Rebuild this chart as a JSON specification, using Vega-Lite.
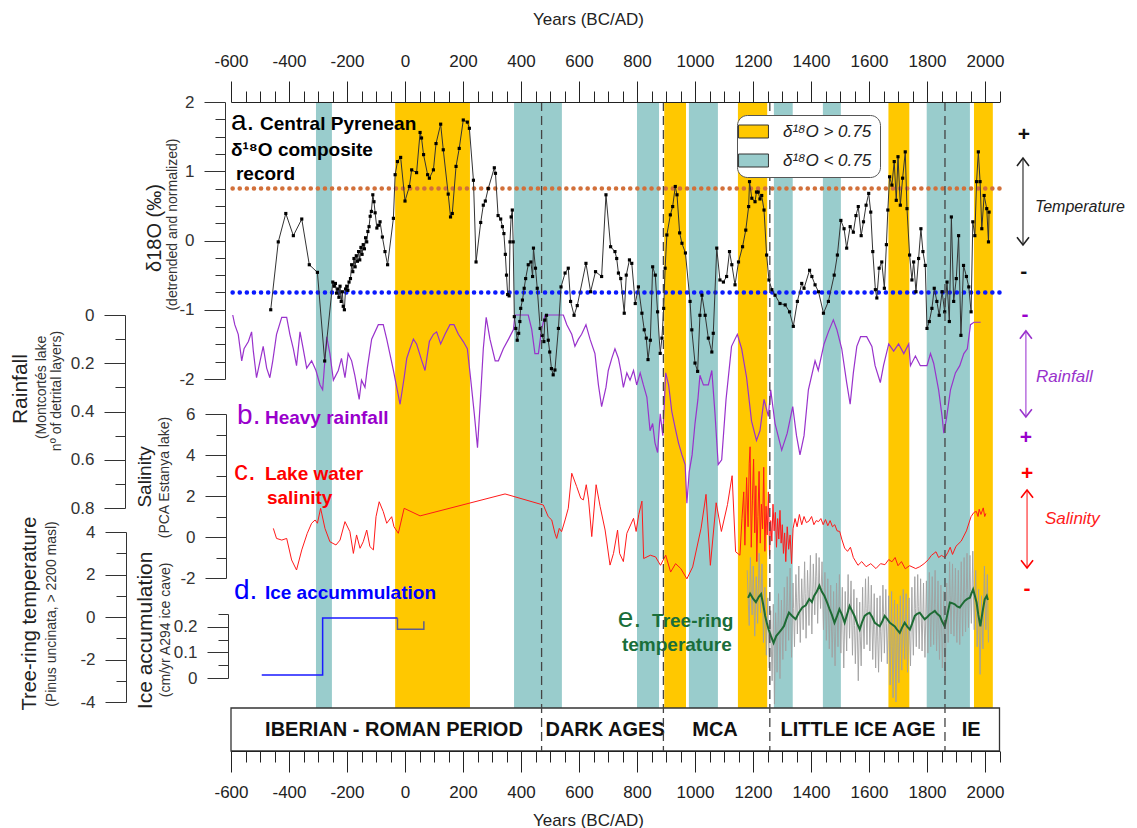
{
"$schema":"https://vega.github.io/schema/vega-lite/v6.json",
"width":768.5,"height":649,
"autosize":{"type":"none"},
"padding":{"left":231,"top":102,"right":137.5,"bottom":77},
"background":"white",
"config":{"font":"Liberation Sans","view":{"stroke":null},"text":{"font":"Liberation Sans"}},
"datasets":{
"d18o":[{"year":-463,"v":-1.0},{"year":-437,"v":-0.02},{"year":-411,"v":0.39},{"year":-385,"v":0.07},{"year":-356,"v":0.31},{"year":-330,"v":-0.35},{"year":-302,"v":-0.46},{"year":-277,"v":-1.74},{"year":-249,"v":-0.6},{"year":-244,"v":-0.66},{"year":-240,"v":-0.62},{"year":-236,"v":-0.76},{"year":-232,"v":-0.7},{"year":-228,"v":-0.82},{"year":-224,"v":-0.66},{"year":-220,"v":-0.88},{"year":-216,"v":-0.74},{"year":-213,"v":-0.95},{"year":-209,"v":-1.0},{"year":-205,"v":-0.7},{"year":-201,"v":-0.66},{"year":-197,"v":-0.72},{"year":-193,"v":-0.6},{"year":-188,"v":-0.55},{"year":-184,"v":-0.35},{"year":-180,"v":-0.45},{"year":-176,"v":-0.26},{"year":-172,"v":-0.38},{"year":-168,"v":-0.22},{"year":-164,"v":-0.3},{"year":-160,"v":-0.16},{"year":-156,"v":-0.28},{"year":-152,"v":-0.1},{"year":-148,"v":-0.2},{"year":-144,"v":-0.06},{"year":-140,"v":-0.12},{"year":-136,"v":0.04},{"year":-132,"v":-0.02},{"year":-128,"v":0.13},{"year":-124,"v":0.2},{"year":-120,"v":0.35},{"year":-116,"v":0.42},{"year":-111,"v":0.66},{"year":-107,"v":0.56},{"year":-103,"v":0.4},{"year":-97,"v":0.18},{"year":-91,"v":0.22},{"year":-86,"v":0.27},{"year":-78,"v":0.05},{"year":-69,"v":-0.16},{"year":-60,"v":-0.35},{"year":-40,"v":0.32},{"year":-34,"v":0.95},{"year":-26,"v":1.14},{"year":-15,"v":1.2},{"year":0,"v":0.57},{"year":15,"v":0.78},{"year":23,"v":1.02},{"year":40,"v":0.98},{"year":52,"v":1.56},{"year":57,"v":1.48},{"year":64,"v":1.24},{"year":78,"v":0.95},{"year":84,"v":0.9},{"year":98,"v":1.02},{"year":107,"v":1.4},{"year":123,"v":1.68},{"year":132,"v":1.31},{"year":149,"v":0.67},{"year":157,"v":0.34},{"year":163,"v":0.39},{"year":176,"v":1.07},{"year":187,"v":1.33},{"year":201,"v":1.74},{"year":215,"v":1.71},{"year":222,"v":1.62},{"year":236,"v":0.87},{"year":245,"v":-0.31},{"year":261,"v":0.26},{"year":270,"v":0.51},{"year":277,"v":0.57},{"year":287,"v":0.75},{"year":308,"v":1.05},{"year":312,"v":0.97},{"year":321,"v":0.36},{"year":330,"v":0.31},{"year":336,"v":0.2},{"year":341,"v":0.1},{"year":346,"v":-0.2},{"year":350,"v":-0.5},{"year":354,"v":-0.78},{"year":359,"v":-0.8},{"year":362,"v":-0.02},{"year":366,"v":0.34},{"year":370,"v":0.44},{"year":373,"v":-0.02},{"year":377,"v":-1.1},{"year":382,"v":-1.27},{"year":387,"v":-1.44},{"year":392,"v":-1.34},{"year":396,"v":-1.17},{"year":399,"v":-0.98},{"year":405,"v":-0.86},{"year":411,"v":-0.69},{"year":416,"v":-0.55},{"year":425,"v":-0.35},{"year":434,"v":-0.31},{"year":440,"v":-0.52},{"year":443,"v":-0.11},{"year":450,"v":-0.4},{"year":456,"v":-0.69},{"year":466,"v":-1.27},{"year":473,"v":-1.37},{"year":479,"v":-1.46},{"year":482,"v":-1.15},{"year":488,"v":-1.08},{"year":494,"v":-1.44},{"year":499,"v":-1.61},{"year":505,"v":-1.85},{"year":511,"v":-1.94},{"year":517,"v":-1.87},{"year":529,"v":-1.27},{"year":538,"v":-0.67},{"year":552,"v":-0.47},{"year":563,"v":-0.4},{"year":571,"v":-0.88},{"year":583,"v":-1.08},{"year":594,"v":-0.94},{"year":624,"v":-0.33},{"year":640,"v":-0.74},{"year":657,"v":-0.45},{"year":678,"v":-0.52},{"year":693,"v":0.66},{"year":709,"v":-0.09},{"year":724,"v":-0.16},{"year":730,"v":-0.26},{"year":736,"v":-0.47},{"year":744,"v":-0.55},{"year":756,"v":-1.05},{"year":763,"v":-0.5},{"year":774,"v":-0.28},{"year":782,"v":-0.33},{"year":794,"v":-0.91},{"year":805,"v":-0.67},{"year":817,"v":-1.05},{"year":825,"v":-1.29},{"year":832,"v":-1.41},{"year":838,"v":-1.72},{"year":846,"v":-1.44},{"year":854,"v":-0.38},{"year":863,"v":-0.5},{"year":871,"v":-1.03},{"year":880,"v":-1.63},{"year":886,"v":-1.41},{"year":892,"v":-0.98},{"year":897,"v":-0.4},{"year":903,"v":0.08},{"year":915,"v":0.37},{"year":923,"v":0.49},{"year":932,"v":0.78},{"year":938,"v":0.66},{"year":947,"v":0.11},{"year":955,"v":-0.04},{"year":967,"v":-0.18},{"year":983,"v":-0.88},{"year":989,"v":-1.29},{"year":1000,"v":-1.77},{"year":1009,"v":-1.89},{"year":1017,"v":-1.08},{"year":1024,"v":-0.79},{"year":1035,"v":-1.08},{"year":1046,"v":-1.41},{"year":1058,"v":-1.61},{"year":1063,"v":-1.34},{"year":1075,"v":-0.11},{"year":1086,"v":-0.57},{"year":1098,"v":-0.6},{"year":1109,"v":-0.52},{"year":1119,"v":-0.16},{"year":1127,"v":-0.35},{"year":1138,"v":-0.64},{"year":1150,"v":-0.31},{"year":1164,"v":-0.09},{"year":1175,"v":0.15},{"year":1185,"v":0.49},{"year":1188,"v":0.85},{"year":1196,"v":0.61},{"year":1207,"v":0.56},{"year":1212,"v":0.7},{"year":1218,"v":0.7},{"year":1224,"v":0.6},{"year":1230,"v":0.65},{"year":1238,"v":0.44},{"year":1247,"v":-0.21},{"year":1255,"v":-0.57},{"year":1265,"v":-0.71},{"year":1276,"v":-0.79},{"year":1293,"v":-0.91},{"year":1311,"v":-0.93},{"year":1326,"v":-1.03},{"year":1339,"v":-1.24},{"year":1353,"v":-0.88},{"year":1368,"v":-0.62},{"year":1376,"v":-0.69},{"year":1395,"v":-0.43},{"year":1403,"v":-0.52},{"year":1414,"v":-0.64},{"year":1426,"v":-0.74},{"year":1443,"v":-1.05},{"year":1460,"v":-0.88},{"year":1480,"v":-0.5},{"year":1491,"v":-0.21},{"year":1503,"v":0.29},{"year":1514,"v":0.17},{"year":1523,"v":-0.11},{"year":1535,"v":0.2},{"year":1546,"v":0.12},{"year":1555,"v":0.36},{"year":1563,"v":0.49},{"year":1573,"v":0.07},{"year":1581,"v":0.27},{"year":1590,"v":0.51},{"year":1599,"v":0.68},{"year":1606,"v":0.41},{"year":1613,"v":-0.16},{"year":1622,"v":-0.71},{"year":1627,"v":-0.83},{"year":1635,"v":-0.4},{"year":1644,"v":-0.31},{"year":1653,"v":-0.69},{"year":1660,"v":-0.06},{"year":1665,"v":0.44},{"year":1671,"v":0.92},{"year":1679,"v":0.8},{"year":1687,"v":1.14},{"year":1694,"v":0.58},{"year":1700,"v":1.21},{"year":1708,"v":0.51},{"year":1716,"v":0.9},{"year":1725,"v":1.28},{"year":1731,"v":0.46},{"year":1740,"v":-0.21},{"year":1748,"v":-0.57},{"year":1754,"v":-0.31},{"year":1762,"v":-0.74},{"year":1771,"v":-0.26},{"year":1779,"v":0.17},{"year":1786,"v":-0.16},{"year":1794,"v":-0.36},{"year":1800,"v":-1.27},{"year":1808,"v":-1.17},{"year":1817,"v":-0.98},{"year":1825,"v":-0.69},{"year":1834,"v":-0.88},{"year":1842,"v":-1.08},{"year":1852,"v":-0.74},{"year":1861,"v":-1.03},{"year":1869,"v":-0.6},{"year":1877,"v":-1.17},{"year":1884,"v":0.34},{"year":1892,"v":-0.88},{"year":1901,"v":-0.55},{"year":1909,"v":0.07},{"year":1917,"v":-1.37},{"year":1926,"v":-0.36},{"year":1936,"v":-0.52},{"year":1944,"v":-0.67},{"year":1952,"v":-1.03},{"year":1958,"v":0.27},{"year":1965,"v":0.07},{"year":1971,"v":0.85},{"year":1977,"v":1.28},{"year":1983,"v":0.85},{"year":1989,"v":0.17},{"year":1997,"v":0.65},{"year":2006,"v":0.46},{"year":2012,"v":-0.02},{"year":2014,"v":0.41}],
"rain":[{"year":-594,"v":0.0},{"year":-587,"v":0.04},{"year":-575,"v":0.08},{"year":-563,"v":0.19},{"year":-555,"v":0.14},{"year":-540,"v":0.11},{"year":-529,"v":0.07},{"year":-523,"v":0.15},{"year":-512,"v":0.26},{"year":-489,"v":0.13},{"year":-477,"v":0.22},{"year":-466,"v":0.26},{"year":-456,"v":0.19},{"year":-443,"v":0.08},{"year":-425,"v":0.01},{"year":-408,"v":0.01},{"year":-397,"v":0.08},{"year":-385,"v":0.14},{"year":-374,"v":0.21},{"year":-362,"v":0.07},{"year":-351,"v":0.14},{"year":-339,"v":0.22},{"year":-322,"v":0.19},{"year":-307,"v":0.23},{"year":-293,"v":0.29},{"year":-284,"v":0.31},{"year":-270,"v":0.09},{"year":-259,"v":0.16},{"year":-247,"v":0.27},{"year":-230,"v":0.23},{"year":-219,"v":0.18},{"year":-207,"v":0.26},{"year":-196,"v":0.16},{"year":-184,"v":0.19},{"year":-173,"v":0.25},{"year":-158,"v":0.35},{"year":-150,"v":0.27},{"year":-138,"v":0.3},{"year":-130,"v":0.22},{"year":-115,"v":0.1},{"year":-92,"v":0.04},{"year":-75,"v":0.04},{"year":-63,"v":0.1},{"year":-40,"v":0.23},{"year":-17,"v":0.37},{"year":-3,"v":0.26},{"year":6,"v":0.18},{"year":17,"v":0.14},{"year":29,"v":0.1},{"year":40,"v":0.12},{"year":58,"v":0.19},{"year":69,"v":0.23},{"year":84,"v":0.11},{"year":98,"v":0.08},{"year":109,"v":0.07},{"year":123,"v":0.12},{"year":138,"v":0.08},{"year":155,"v":0.04},{"year":169,"v":0.04},{"year":184,"v":0.08},{"year":201,"v":0.11},{"year":215,"v":0.14},{"year":226,"v":0.26},{"year":239,"v":0.41},{"year":250,"v":0.55},{"year":261,"v":0.33},{"year":270,"v":0.14},{"year":280,"v":0.01},{"year":293,"v":0.1},{"year":311,"v":0.19},{"year":322,"v":0.19},{"year":339,"v":0.14},{"year":357,"v":0.1},{"year":374,"v":0.06},{"year":379,"v":0.0},{"year":425,"v":0.0},{"year":437,"v":0.06},{"year":448,"v":0.16},{"year":460,"v":0.16},{"year":471,"v":0.06},{"year":483,"v":0.0},{"year":546,"v":0.0},{"year":558,"v":0.04},{"year":575,"v":0.08},{"year":586,"v":0.13},{"year":598,"v":0.1},{"year":609,"v":0.08},{"year":624,"v":0.04},{"year":638,"v":0.1},{"year":655,"v":0.16},{"year":667,"v":0.29},{"year":678,"v":0.38},{"year":693,"v":0.3},{"year":701,"v":0.23},{"year":713,"v":0.18},{"year":724,"v":0.14},{"year":736,"v":0.18},{"year":744,"v":0.23},{"year":753,"v":0.3},{"year":765,"v":0.24},{"year":776,"v":0.27},{"year":788,"v":0.23},{"year":799,"v":0.29},{"year":811,"v":0.24},{"year":822,"v":0.29},{"year":834,"v":0.34},{"year":845,"v":0.48},{"year":854,"v":0.45},{"year":862,"v":0.53},{"year":871,"v":0.57},{"year":880,"v":0.41},{"year":889,"v":0.5},{"year":899,"v":0.24},{"year":909,"v":0.29},{"year":920,"v":0.4},{"year":932,"v":0.47},{"year":943,"v":0.53},{"year":955,"v":0.58},{"year":966,"v":0.62},{"year":972,"v":0.78},{"year":980,"v":0.65},{"year":990,"v":0.58},{"year":1000,"v":0.45},{"year":1010,"v":0.35},{"year":1017,"v":0.25},{"year":1029,"v":0.29},{"year":1046,"v":0.29},{"year":1058,"v":0.23},{"year":1069,"v":0.41},{"year":1080,"v":0.62},{"year":1092,"v":0.6},{"year":1107,"v":0.35},{"year":1126,"v":0.13},{"year":1146,"v":0.08},{"year":1161,"v":0.14},{"year":1178,"v":0.26},{"year":1195,"v":0.44},{"year":1212,"v":0.52},{"year":1224,"v":0.48},{"year":1238,"v":0.35},{"year":1253,"v":0.42},{"year":1261,"v":0.31},{"year":1276,"v":0.45},{"year":1299,"v":0.56},{"year":1318,"v":0.49},{"year":1337,"v":0.38},{"year":1350,"v":0.5},{"year":1362,"v":0.58},{"year":1376,"v":0.5},{"year":1391,"v":0.31},{"year":1414,"v":0.19},{"year":1425,"v":0.23},{"year":1445,"v":0.12},{"year":1460,"v":0.07},{"year":1477,"v":0.02},{"year":1489,"v":0.06},{"year":1506,"v":0.14},{"year":1523,"v":0.28},{"year":1535,"v":0.37},{"year":1546,"v":0.24},{"year":1558,"v":0.13},{"year":1571,"v":0.09},{"year":1592,"v":0.09},{"year":1610,"v":0.13},{"year":1621,"v":0.21},{"year":1639,"v":0.28},{"year":1650,"v":0.21},{"year":1668,"v":0.12},{"year":1685,"v":0.15},{"year":1702,"v":0.12},{"year":1720,"v":0.16},{"year":1737,"v":0.12},{"year":1743,"v":0.21},{"year":1760,"v":0.17},{"year":1777,"v":0.21},{"year":1800,"v":0.21},{"year":1812,"v":0.16},{"year":1823,"v":0.2},{"year":1840,"v":0.31},{"year":1852,"v":0.42},{"year":1858,"v":0.49},{"year":1867,"v":0.43},{"year":1881,"v":0.31},{"year":1898,"v":0.24},{"year":1913,"v":0.21},{"year":1927,"v":0.16},{"year":1939,"v":0.14},{"year":1950,"v":0.04},{"year":1962,"v":0.03},{"year":1985,"v":0.03}],
"sal":[{"year":-454,"v":0.42},{"year":-443,"v":-0.07},{"year":-425,"v":-0.15},{"year":-408,"v":-0.07},{"year":-391,"v":-1.12},{"year":-374,"v":-1.61},{"year":-356,"v":-0.63},{"year":-337,"v":0.18},{"year":-322,"v":0.67},{"year":-310,"v":0.83},{"year":-302,"v":0.67},{"year":-291,"v":1.4},{"year":-276,"v":0.42},{"year":-259,"v":-0.23},{"year":-238,"v":-0.39},{"year":-224,"v":-0.15},{"year":-207,"v":0.75},{"year":-190,"v":0.26},{"year":-178,"v":-0.8},{"year":-167,"v":0.1},{"year":-155,"v":-0.55},{"year":-144,"v":-0.23},{"year":-132,"v":0.34},{"year":-121,"v":-0.47},{"year":-109,"v":-0.63},{"year":-100,"v":0.99},{"year":-89,"v":1.72},{"year":-75,"v":1.24},{"year":-63,"v":0.67},{"year":-46,"v":0.99},{"year":-38,"v":0.5},{"year":-23,"v":0.18},{"year":-3,"v":1.4},{"year":52,"v":1.03},{"year":345,"v":2.1},{"year":477,"v":1.56},{"year":494,"v":0.99},{"year":506,"v":0.83},{"year":517,"v":0.18},{"year":523,"v":-0.07},{"year":532,"v":0.42},{"year":540,"v":0.26},{"year":552,"v":0.83},{"year":563,"v":1.4},{"year":575,"v":3.11},{"year":592,"v":2.46},{"year":606,"v":1.89},{"year":615,"v":1.81},{"year":625,"v":2.55},{"year":633,"v":1.81},{"year":644,"v":0.02},{"year":659,"v":2.55},{"year":673,"v":1.48},{"year":690,"v":0.34},{"year":707,"v":-1.37},{"year":719,"v":-0.8},{"year":733,"v":0.34},{"year":740,"v":-0.8},{"year":753,"v":-1.2},{"year":765,"v":0.18},{"year":788,"v":0.91},{"year":797,"v":0.27},{"year":806,"v":1.09},{"year":817,"v":1.75},{"year":823,"v":-1.05},{"year":846,"v":-0.89},{"year":864,"v":-0.97},{"year":881,"v":-1.38},{"year":899,"v":-0.89},{"year":916,"v":-1.71},{"year":933,"v":-1.3},{"year":951,"v":-1.54},{"year":972,"v":-2.04},{"year":992,"v":-1.46},{"year":1021,"v":0.43},{"year":1038,"v":2.08},{"year":1053,"v":-1.38},{"year":1073,"v":1.67},{"year":1091,"v":0.27},{"year":1112,"v":1.58},{"year":1128,"v":2.99},{"year":1140,"v":-0.72},{"year":1155,"v":-0.89},{"year":1162,"v":0.9},{"year":1168,"v":2.2},{"year":1172,"v":-0.4},{"year":1178,"v":2.9},{"year":1183,"v":0.5},{"year":1187,"v":3.6},{"year":1190,"v":4.4},{"year":1194,"v":-0.5},{"year":1198,"v":1.8},{"year":1202,"v":3.8},{"year":1206,"v":0.2},{"year":1210,"v":2.5},{"year":1213,"v":-1.2},{"year":1217,"v":1.0},{"year":1221,"v":3.2},{"year":1225,"v":-0.3},{"year":1229,"v":1.6},{"year":1233,"v":0.4},{"year":1237,"v":3.4},{"year":1241,"v":-0.7},{"year":1245,"v":1.5},{"year":1249,"v":0.1},{"year":1253,"v":2.2},{"year":1257,"v":-0.9},{"year":1261,"v":0.8},{"year":1265,"v":-0.2},{"year":1269,"v":1.6},{"year":1273,"v":0.3},{"year":1277,"v":1.2},{"year":1281,"v":-0.5},{"year":1285,"v":0.9},{"year":1289,"v":-0.1},{"year":1293,"v":1.3},{"year":1297,"v":-0.3},{"year":1301,"v":0.6},{"year":1305,"v":-0.8},{"year":1309,"v":0.2},{"year":1313,"v":-1.2},{"year":1318,"v":0.5},{"year":1323,"v":-0.6},{"year":1328,"v":0.1},{"year":1333,"v":-1.3},{"year":1338,"v":0.4},{"year":1345,"v":0.9},{"year":1352,"v":0.5},{"year":1360,"v":1.1},{"year":1368,"v":0.6},{"year":1376,"v":1.0},{"year":1384,"v":0.7},{"year":1393,"v":0.78},{"year":1402,"v":1.0},{"year":1410,"v":0.6},{"year":1418,"v":0.8},{"year":1426,"v":0.75},{"year":1434,"v":0.9},{"year":1442,"v":0.6},{"year":1450,"v":0.85},{"year":1458,"v":0.55},{"year":1466,"v":0.8},{"year":1474,"v":0.5},{"year":1482,"v":0.6},{"year":1490,"v":0.3},{"year":1499,"v":0.27},{"year":1506,"v":-0.1},{"year":1516,"v":-0.54},{"year":1526,"v":-0.7},{"year":1536,"v":-0.5},{"year":1546,"v":-1.0},{"year":1562,"v":-1.38},{"year":1575,"v":-1.2},{"year":1590,"v":-1.45},{"year":1606,"v":-1.3},{"year":1624,"v":-1.54},{"year":1640,"v":-1.3},{"year":1655,"v":-1.35},{"year":1668,"v":-1.1},{"year":1679,"v":-1.21},{"year":1690,"v":-1.0},{"year":1700,"v":-1.4},{"year":1712,"v":-1.2},{"year":1725,"v":-1.55},{"year":1740,"v":-1.4},{"year":1761,"v":-1.54},{"year":1775,"v":-1.45},{"year":1790,"v":-1.3},{"year":1805,"v":-1.1},{"year":1815,"v":-0.9},{"year":1831,"v":-0.72},{"year":1840,"v":-1.0},{"year":1850,"v":-0.9},{"year":1862,"v":-1.0},{"year":1872,"v":-0.75},{"year":1880,"v":-0.5},{"year":1888,"v":-0.85},{"year":1900,"v":-0.45},{"year":1918,"v":-0.2},{"year":1936,"v":0.3},{"year":1952,"v":1.0},{"year":1962,"v":1.2},{"year":1970,"v":1.25},{"year":1976,"v":1.0},{"year":1980,"v":1.35},{"year":1986,"v":1.1},{"year":1994,"v":1.42},{"year":1999,"v":1.0},{"year":2003,"v":1.15}],
"gray":[{"year":1180,"v":2.2},{"year":1184,"v":0.6},{"year":1187,"v":-0.4},{"year":1191,"v":2.8},{"year":1194,"v":1.2},{"year":1197,"v":0.1},{"year":1201,"v":2.4},{"year":1204,"v":0.3},{"year":1206,"v":-0.9},{"year":1211,"v":1.9},{"year":1214,"v":0.8},{"year":1216,"v":-0.3},{"year":1221,"v":3.0},{"year":1224,"v":1.5},{"year":1226,"v":0.2},{"year":1231,"v":2.5},{"year":1234,"v":0.4},{"year":1236,"v":-1.2},{"year":1241,"v":1.4},{"year":1243,"v":0.1},{"year":1246,"v":-1.8},{"year":1251,"v":0.9},{"year":1253,"v":-0.6},{"year":1256,"v":-2.4},{"year":1261,"v":0.3},{"year":1263,"v":-1.2},{"year":1266,"v":-3.0},{"year":1270,"v":0.6},{"year":1272,"v":-1.5},{"year":1274,"v":-4.1},{"year":1278,"v":0.2},{"year":1281,"v":-0.9},{"year":1283,"v":-2.6},{"year":1288,"v":1.1},{"year":1290,"v":-0.5},{"year":1293,"v":-2.9},{"year":1298,"v":0.8},{"year":1300,"v":-0.4},{"year":1303,"v":-2.0},{"year":1308,"v":1.4},{"year":1310,"v":0.2},{"year":1313,"v":-1.6},{"year":1318,"v":1.9},{"year":1320,"v":0.5},{"year":1323,"v":-1.1},{"year":1328,"v":2.3},{"year":1330,"v":0.3},{"year":1333,"v":-1.9},{"year":1338,"v":1.6},{"year":1340,"v":0.4},{"year":1343,"v":-1.4},{"year":1348,"v":2.0},{"year":1350,"v":0.9},{"year":1353,"v":-0.8},{"year":1358,"v":2.4},{"year":1360,"v":0.7},{"year":1363,"v":-1.2},{"year":1368,"v":1.8},{"year":1370,"v":0.9},{"year":1373,"v":-0.6},{"year":1378,"v":2.6},{"year":1380,"v":1.1},{"year":1383,"v":-1.0},{"year":1388,"v":2.2},{"year":1390,"v":1.3},{"year":1393,"v":-0.4},{"year":1398,"v":2.9},{"year":1400,"v":1.2},{"year":1403,"v":-0.8},{"year":1408,"v":2.5},{"year":1410,"v":1.6},{"year":1413,"v":0.1},{"year":1418,"v":3.0},{"year":1420,"v":1.9},{"year":1423,"v":-0.3},{"year":1428,"v":2.8},{"year":1430,"v":1.5},{"year":1433,"v":0.4},{"year":1438,"v":2.6},{"year":1440,"v":1.4},{"year":1443,"v":-0.6},{"year":1448,"v":2.1},{"year":1450,"v":0.8},{"year":1453,"v":-1.1},{"year":1458,"v":1.8},{"year":1460,"v":0.4},{"year":1463,"v":-1.5},{"year":1468,"v":1.5},{"year":1470,"v":-0.2},{"year":1473,"v":-1.9},{"year":1478,"v":1.2},{"year":1480,"v":-0.7},{"year":1483,"v":-2.3},{"year":1488,"v":1.6},{"year":1490,"v":0.2},{"year":1493,"v":-1.4},{"year":1498,"v":2.0},{"year":1500,"v":0.5},{"year":1503,"v":-1.7},{"year":1508,"v":1.4},{"year":1510,"v":-0.3},{"year":1513,"v":-2.4},{"year":1518,"v":1.2},{"year":1520,"v":-0.1},{"year":1523,"v":-1.6},{"year":1528,"v":2.0},{"year":1530,"v":0.7},{"year":1533,"v":-1.0},{"year":1538,"v":1.7},{"year":1540,"v":0.3},{"year":1543,"v":-1.8},{"year":1548,"v":1.3},{"year":1550,"v":-0.4},{"year":1553,"v":-2.2},{"year":1558,"v":0.9},{"year":1560,"v":-0.8},{"year":1563,"v":-3.0},{"year":1568,"v":0.7},{"year":1570,"v":-0.9},{"year":1573,"v":-2.3},{"year":1578,"v":1.4},{"year":1580,"v":-0.2},{"year":1583,"v":-1.5},{"year":1588,"v":1.8},{"year":1590,"v":0.4},{"year":1593,"v":-1.3},{"year":1598,"v":1.9},{"year":1600,"v":0.6},{"year":1603,"v":-1.6},{"year":1608,"v":1.5},{"year":1610,"v":-0.1},{"year":1613,"v":-2.0},{"year":1618,"v":1.1},{"year":1620,"v":-0.6},{"year":1623,"v":-2.4},{"year":1628,"v":0.9},{"year":1630,"v":-0.9},{"year":1633,"v":-2.6},{"year":1638,"v":1.0},{"year":1640,"v":-0.7},{"year":1643,"v":-2.1},{"year":1648,"v":1.5},{"year":1650,"v":0.2},{"year":1653,"v":-1.7},{"year":1658,"v":1.3},{"year":1660,"v":-0.3},{"year":1663,"v":-2.2},{"year":1668,"v":1.0},{"year":1670,"v":-1.1},{"year":1673,"v":-3.2},{"year":1678,"v":1.2},{"year":1680,"v":-1.4},{"year":1683,"v":-3.8},{"year":1688,"v":0.8},{"year":1690,"v":-1.6},{"year":1693,"v":-4.0},{"year":1698,"v":0.6},{"year":1700,"v":-1.2},{"year":1703,"v":-3.1},{"year":1708,"v":1.0},{"year":1710,"v":-0.8},{"year":1713,"v":-2.5},{"year":1718,"v":1.3},{"year":1720,"v":-0.4},{"year":1723,"v":-2.0},{"year":1728,"v":1.1},{"year":1730,"v":-0.9},{"year":1733,"v":-2.6},{"year":1738,"v":0.9},{"year":1740,"v":-0.8},{"year":1743,"v":-2.3},{"year":1748,"v":1.4},{"year":1750,"v":-0.2},{"year":1753,"v":-1.8},{"year":1758,"v":1.9},{"year":1760,"v":0.4},{"year":1763,"v":-1.4},{"year":1768,"v":2.0},{"year":1770,"v":0.5},{"year":1773,"v":-1.5},{"year":1778,"v":1.8},{"year":1780,"v":0.2},{"year":1783,"v":-1.6},{"year":1788,"v":1.6},{"year":1790,"v":-0.1},{"year":1793,"v":-1.9},{"year":1798,"v":1.7},{"year":1800,"v":0.1},{"year":1803,"v":-1.7},{"year":1808,"v":2.1},{"year":1810,"v":0.6},{"year":1813,"v":-1.4},{"year":1818,"v":1.9},{"year":1820,"v":0.5},{"year":1823,"v":-1.3},{"year":1828,"v":2.2},{"year":1830,"v":0.6},{"year":1833,"v":-1.6},{"year":1838,"v":1.7},{"year":1840,"v":0.1},{"year":1843,"v":-2.0},{"year":1848,"v":1.5},{"year":1850,"v":-0.3},{"year":1853,"v":-2.4},{"year":1858,"v":1.2},{"year":1860,"v":-0.7},{"year":1863,"v":-2.8},{"year":1868,"v":1.6},{"year":1870,"v":0.2},{"year":1873,"v":-1.2},{"year":1878,"v":2.6},{"year":1880,"v":1.0},{"year":1883,"v":-0.8},{"year":1888,"v":2.5},{"year":1890,"v":0.9},{"year":1893,"v":-0.9},{"year":1898,"v":2.3},{"year":1900,"v":0.6},{"year":1903,"v":-1.2},{"year":1908,"v":2.2},{"year":1910,"v":0.5},{"year":1913,"v":-1.3},{"year":1918,"v":2.6},{"year":1920,"v":0.9},{"year":1923,"v":-0.9},{"year":1928,"v":2.8},{"year":1930,"v":1.1},{"year":1933,"v":-0.7},{"year":1938,"v":3.0},{"year":1940,"v":1.3},{"year":1943,"v":-0.5},{"year":1948,"v":2.9},{"year":1950,"v":1.2},{"year":1953,"v":-0.3},{"year":1958,"v":3.1},{"year":1960,"v":1.1},{"year":1963,"v":-0.6},{"year":1968,"v":2.2},{"year":1970,"v":0.5},{"year":1973,"v":-1.4},{"year":1978,"v":1.3},{"year":1980,"v":-0.6},{"year":1983,"v":-2.7},{"year":1988,"v":1.0},{"year":1990,"v":-0.3},{"year":1993,"v":-1.5},{"year":1998,"v":2.4},{"year":2000,"v":0.9},{"year":2003,"v":-0.6},{"year":2008,"v":2.0},{"year":2010,"v":0.4},{"year":2012,"v":-1.2}],
"green":[{"year":1183,"v":0.9},{"year":1190,"v":1.1},{"year":1201,"v":0.85},{"year":1210,"v":0.7},{"year":1220,"v":0.95},{"year":1228,"v":1.08},{"year":1235,"v":0.6},{"year":1242,"v":0.05},{"year":1248,"v":-0.3},{"year":1254,"v":-0.59},{"year":1262,"v":-0.9},{"year":1271,"v":-1.22},{"year":1280,"v":-0.9},{"year":1289,"v":-0.75},{"year":1298,"v":-0.6},{"year":1307,"v":-0.42},{"year":1315,"v":-0.1},{"year":1324,"v":0.21},{"year":1335,"v":0.05},{"year":1347,"v":-0.1},{"year":1358,"v":0.2},{"year":1370,"v":0.45},{"year":1382,"v":0.55},{"year":1394,"v":0.85},{"year":1403,"v":0.7},{"year":1411,"v":1.0},{"year":1420,"v":1.2},{"year":1429,"v":1.48},{"year":1437,"v":1.2},{"year":1446,"v":1.0},{"year":1455,"v":0.7},{"year":1464,"v":0.37},{"year":1472,"v":0.1},{"year":1481,"v":-0.27},{"year":1490,"v":0.05},{"year":1498,"v":0.37},{"year":1507,"v":0.1},{"year":1516,"v":-0.27},{"year":1524,"v":0.1},{"year":1533,"v":0.52},{"year":1541,"v":0.3},{"year":1550,"v":0.05},{"year":1559,"v":-0.3},{"year":1568,"v":-0.59},{"year":1576,"v":-0.25},{"year":1585,"v":0.05},{"year":1594,"v":0.15},{"year":1602,"v":0.2},{"year":1611,"v":0.0},{"year":1620,"v":-0.27},{"year":1628,"v":-0.35},{"year":1637,"v":-0.44},{"year":1646,"v":-0.2},{"year":1654,"v":0.05},{"year":1663,"v":-0.1},{"year":1672,"v":-0.27},{"year":1680,"v":-0.35},{"year":1689,"v":-0.44},{"year":1697,"v":-0.6},{"year":1706,"v":-0.75},{"year":1714,"v":-0.5},{"year":1723,"v":-0.27},{"year":1732,"v":-0.45},{"year":1741,"v":-0.59},{"year":1749,"v":-0.3},{"year":1758,"v":0.05},{"year":1766,"v":0.15},{"year":1775,"v":0.2},{"year":1783,"v":0.05},{"year":1792,"v":-0.11},{"year":1801,"v":0.0},{"year":1810,"v":0.13},{"year":1818,"v":0.2},{"year":1827,"v":0.29},{"year":1835,"v":0.15},{"year":1844,"v":0.05},{"year":1852,"v":-0.2},{"year":1861,"v":-0.44},{"year":1870,"v":0.1},{"year":1879,"v":0.68},{"year":1887,"v":0.65},{"year":1896,"v":0.6},{"year":1904,"v":0.5},{"year":1913,"v":0.45},{"year":1921,"v":0.6},{"year":1930,"v":0.76},{"year":1939,"v":0.85},{"year":1948,"v":0.91},{"year":1953,"v":1.1},{"year":1959,"v":1.3},{"year":1965,"v":1.0},{"year":1971,"v":0.68},{"year":1977,"v":0.1},{"year":1984,"v":-0.44},{"year":1991,"v":0.2},{"year":1999,"v":0.83},{"year":2006,"v":1.0},{"year":2010,"v":0.8}]
},
"layer":[
{"data":{"values":[{"start":-307,"end":-252,"type":"δ¹⁸O < 0.75"},{"start":-34,"end":224,"type":"δ¹⁸O > 0.75"},{"start":376,"end":541,"type":"δ¹⁸O < 0.75"},{"start":800,"end":876,"type":"δ¹⁸O < 0.75"},{"start":894,"end":969,"type":"δ¹⁸O > 0.75"},{"start":979,"end":1079,"type":"δ¹⁸O < 0.75"},{"start":1148,"end":1249,"type":"δ¹⁸O > 0.75"},{"start":1272,"end":1337,"type":"δ¹⁸O < 0.75"},{"start":1441,"end":1503,"type":"δ¹⁸O < 0.75"},{"start":1667,"end":1739,"type":"δ¹⁸O > 0.75"},{"start":1799,"end":1948,"type":"δ¹⁸O < 0.75"},{"start":1962,"end":2027,"type":"δ¹⁸O > 0.75"}]},
 "mark":{"type":"rect"},
 "encoding":{
  "x":{"field":"start","type":"quantitative","scale":{"domain":[-600,2050],"nice":false,"zero":false},
   "axis":{"orient":"top","values":[-600,-550,-500,-450,-400,-350,-300,-250,-200,-150,-100,-50,0,50,100,150,200,250,300,350,400,450,500,550,600,650,700,750,800,850,900,950,1000,1050,1100,1150,1200,1250,1300,1350,1400,1450,1500,1550,1600,1650,1700,1750,1800,1850,1900,1950,2000,2050],
    "tickSize":{"condition":{"test":"datum.value % 200 === 0","value":21},"value":11},
    "labelExpr":"datum.value % 200 === 0 ? toString(datum.value) : ''",
    "labelFontSize":17,"labelPadding":11,"labelOverlap":false,"labelFlush":false,"labelColor":"#222",
    "title":"Years (BC/AD)","titleFontSize":17,"titleFontWeight":"normal","titleColor":"#222","titlePadding":24,"titleX":357,
    "domainColor":"#222","tickColor":"#222","grid":false,"zindex":1}},
  "x2":{"field":"end"},
  "color":{"field":"type","type":"nominal","scale":{"domain":["δ¹⁸O > 0.75","δ¹⁸O < 0.75"],"range":["#FFC800","#99CCCC"]},
   "legend":{"title":null,"orient":"none","legendX":506,"legendY":13,"symbolType":"M-2.3,-1H2.3V1H-2.3Z","symbolSize":169,"symbolStrokeColor":"#333","symbolStrokeWidth":1,"symbolOpacity":1,"labelFontSize":17,"labelFontStyle":"italic","labelFont":"Liberation Sans","labelColor":"#222","labelOffset":21,"rowPadding":11,"padding":8,"cornerRadius":10,"strokeColor":"#555","fillColor":"white","labelLimit":300}}
 }},
{"data":{"values":[{"p":"box","start":-600,"end":2050}]},
 "mark":{"type":"rect","fill":"white","stroke":"#333","strokeWidth":1.3},
 "encoding":{
  "x":{"field":"start","type":"quantitative","scale":{"domain":[-600,2050],"nice":false,"zero":false},
   "axis":{"orient":"bottom","values":[-600,-550,-500,-450,-400,-350,-300,-250,-200,-150,-100,-50,0,50,100,150,200,250,300,350,400,450,500,550,600,650,700,750,800,850,900,950,1000,1050,1100,1150,1200,1250,1300,1350,1400,1450,1500,1550,1600,1650,1700,1750,1800,1850,1900,1950,2000,2050],
    "tickSize":{"condition":{"test":"datum.value % 200 === 0","value":21},"value":11},
    "labelExpr":"datum.value % 200 === 0 ? toString(datum.value) : ''",
    "labelFontSize":17,"labelPadding":12,"labelOverlap":false,"labelFlush":false,"labelColor":"#222",
    "title":"Years (BC/AD)","titleFontSize":17,"titleFontWeight":"normal","titleColor":"#222","titlePadding":12,"titleX":357,
    "domainColor":"#222","tickColor":"#222","grid":false,"zindex":1}},
  "x2":{"field":"end"},
  "y":{"field":"p","type":"nominal","scale":{"range":[606,649],"paddingInner":0,"paddingOuter":0},"axis":null}}},
{"data":{"values":[{"p":"box","year":-38,"t":"IBERIAN - ROMAN PERIOD"},{"p":"box","year":690,"t":"DARK AGES"},{"p":"box","year":1069,"t":"MCA"},{"p":"box","year":1562,"t":"LITTLE ICE AGE"},{"p":"box","year":1952,"t":"IE"}]},
 "mark":{"type":"text","fontSize":20,"fontWeight":"bold","color":"#111","align":"center","baseline":"middle"},
 "encoding":{"x":{"field":"year","type":"quantitative","scale":{"domain":[-600,2050],"nice":false,"zero":false},"axis":null},
  "y":{"field":"p","type":"nominal","scale":{"range":[606,649],"paddingInner":0,"paddingOuter":0},"axis":null},
  "text":{"field":"t"}}},

{"data":{"name":"rain"},"mark":{"type":"line","color":"#9932CC","strokeWidth":1.2},
 "encoding":{"x":{"field":"year","type":"quantitative","scale":{"domain":[-600,2050],"nice":false,"zero":false},"axis":null},
  "y":{"field":"v","type":"quantitative","scale":{"domain":[0,0.8],"range":[213,406],"nice":false,"zero":false},
   "axis":{"orient":"left","offset":106,"values":[0,0.1,0.2,0.3,0.4,0.5,0.6,0.7,0.8],"tickSize":{"condition":{"test":"round(datum.value*10) % 2 === 0","value":21},"value":10},"labelExpr":"round(datum.value*10) % 2 === 0 ? toString(datum.value) : ''","labelFontSize":17,"labelPadding":10,"labelColor":"#333","labelOverlap":false,"labelFlush":false,"domainColor":"#333","tickColor":"#333","title":null,"grid":false,"zindex":1}}}},
{"data":{"values":[{"year":-579,"v":0.452,"t":"b."}]},"mark":{"type":"text","align":"left","baseline":"alphabetic","fontSize":28,"color":"#9900CC"},
 "encoding":{"x":{"field":"year","type":"quantitative","scale":{"domain":[-600,2050],"nice":false,"zero":false},"axis":null},"y":{"field":"v","type":"quantitative","scale":{"domain":[0,0.8],"range":[213,406],"nice":false,"zero":false},"axis":null},"text":{"field":"t"}}},
{"data":{"values":[{"year":-483,"v":0.452,"t":"Heavy rainfall"}]},"mark":{"type":"text","align":"left","baseline":"alphabetic","fontSize":19,"fontWeight":"bold","color":"#9900CC"},
 "encoding":{"x":{"field":"year","type":"quantitative","scale":{"domain":[-600,2050],"nice":false,"zero":false},"axis":null},"y":{"field":"v","type":"quantitative","scale":{"domain":[0,0.8],"range":[213,406],"nice":false,"zero":false},"axis":null},"text":{"field":"t"}}},
{"data":{"values":[{"year":-1324,"v":0.307,"t":"Rainfall"}]},"mark":{"type":"text","angle":270,"align":"center","baseline":"middle","fontSize":21,"color":"#222"},
 "encoding":{"x":{"field":"year","type":"quantitative","scale":{"domain":[-600,2050],"nice":false,"zero":false},"axis":null},"y":{"field":"v","type":"quantitative","scale":{"domain":[0,0.8],"range":[213,406],"nice":false,"zero":false},"axis":null},"text":{"field":"t"}}},
{"data":{"values":[{"year":-1252,"v":0.3,"t":"(Montcortés lake"},{"year":-1200,"v":0.315,"t":"nº of detrital layers)"}]},"mark":{"type":"text","angle":270,"align":"center","baseline":"middle","fontSize":14,"color":"#333"},
 "encoding":{"x":{"field":"year","type":"quantitative","scale":{"domain":[-600,2050],"nice":false,"zero":false},"axis":null},"y":{"field":"v","type":"quantitative","scale":{"domain":[0,0.8],"range":[213,406],"nice":false,"zero":false},"axis":null},"text":{"field":"t"}}},
{"data":{"values":[{"year":2138,"v":0.0,"t":"-"},{"year":2141,"v":0.51,"t":"+"}]},"mark":{"type":"text","align":"center","baseline":"middle","fontSize":21,"fontWeight":"bold","color":"#9900CC"},
 "encoding":{"x":{"field":"year","type":"quantitative","scale":{"domain":[-600,2050],"nice":false,"zero":false},"axis":null},"y":{"field":"v","type":"quantitative","scale":{"domain":[0,0.8],"range":[213,406],"nice":false,"zero":false},"axis":null},"text":{"field":"t"}}},
{"data":{"values":[{"year":2176,"v":0.257,"t":"Rainfall"}]},"mark":{"type":"text","align":"left","baseline":"middle","fontSize":17,"fontStyle":"italic","color":"#9932CC"},
 "encoding":{"x":{"field":"year","type":"quantitative","scale":{"domain":[-600,2050],"nice":false,"zero":false},"axis":null},"y":{"field":"v","type":"quantitative","scale":{"domain":[0,0.8],"range":[213,406],"nice":false,"zero":false},"axis":null},"text":{"field":"t"}}},
{"data":{"values":[{"year":2141,"v":0.066,"v2":0.423}]},"mark":{"type":"rule","color":"#A64DD6","strokeWidth":1.2},
 "encoding":{"x":{"field":"year","type":"quantitative","scale":{"domain":[-600,2050],"nice":false,"zero":false},"axis":null},"y":{"field":"v","type":"quantitative","scale":{"domain":[0,0.8],"range":[213,406],"nice":false,"zero":false},"axis":null},"y2":{"field":"v2"}}},
{"data":{"values":[{"year":2141,"v":0.066}]},"mark":{"type":"point","shape":"M-1,1.3L0,0L1,1.3","filled":false,"size":144,"color":"#9932CC","strokeWidth":1.6,"opacity":1},
 "encoding":{"x":{"field":"year","type":"quantitative","scale":{"domain":[-600,2050],"nice":false,"zero":false},"axis":null},"y":{"field":"v","type":"quantitative","scale":{"domain":[0,0.8],"range":[213,406],"nice":false,"zero":false},"axis":null}}},
{"data":{"values":[{"year":2141,"v":0.423}]},"mark":{"type":"point","shape":"M-1,-1.3L0,0L1,-1.3","filled":false,"size":144,"color":"#9932CC","strokeWidth":1.6,"opacity":1},
 "encoding":{"x":{"field":"year","type":"quantitative","scale":{"domain":[-600,2050],"nice":false,"zero":false},"axis":null},"y":{"field":"v","type":"quantitative","scale":{"domain":[0,0.8],"range":[213,406],"nice":false,"zero":false},"axis":null}}},

{"data":{"name":"sal"},"mark":{"type":"line","color":"#FF1A1A","strokeWidth":1},
 "encoding":{"x":{"field":"year","type":"quantitative","scale":{"domain":[-600,2050],"nice":false,"zero":false},"axis":null},
  "y":{"field":"v","type":"quantitative","scale":{"domain":[-2,6],"range":[476,312],"nice":false,"zero":false},
   "axis":{"orient":"left","offset":5,"values":[-2,-1,0,1,2,3,4,5,6],"tickSize":{"condition":{"test":"datum.value % 2 === 0","value":21},"value":10},"labelExpr":"datum.value % 2 === 0 ? toString(datum.value) : ''","labelFontSize":17,"labelPadding":10,"labelColor":"#333","labelOverlap":false,"labelFlush":false,"domainColor":"#333","tickColor":"#333","title":null,"grid":false,"zindex":1}}}},
{"data":{"values":[{"year":-590,"v":2.78,"t":"c."}]},"mark":{"type":"text","align":"left","baseline":"alphabetic","fontSize":28,"color":"#FF0000"},
 "encoding":{"x":{"field":"year","type":"quantitative","scale":{"domain":[-600,2050],"nice":false,"zero":false},"axis":null},"y":{"field":"v","type":"quantitative","scale":{"domain":[-2,6],"range":[476,312],"nice":false,"zero":false},"axis":null},"text":{"field":"t"}}},
{"data":{"values":[{"year":-483,"v":2.78,"t":"Lake water"},{"year":-476,"v":1.61,"t":"salinity"}]},"mark":{"type":"text","align":"left","baseline":"alphabetic","fontSize":19,"fontWeight":"bold","color":"#FF0000"},
 "encoding":{"x":{"field":"year","type":"quantitative","scale":{"domain":[-600,2050],"nice":false,"zero":false},"axis":null},"y":{"field":"v","type":"quantitative","scale":{"domain":[-2,6],"range":[476,312],"nice":false,"zero":false},"axis":null},"text":{"field":"t"}}},
{"data":{"values":[{"year":-897,"v":2.93,"t":"Salinity"}]},"mark":{"type":"text","angle":270,"align":"center","baseline":"middle","fontSize":19,"color":"#222"},
 "encoding":{"x":{"field":"year","type":"quantitative","scale":{"domain":[-600,2050],"nice":false,"zero":false},"axis":null},"y":{"field":"v","type":"quantitative","scale":{"domain":[-2,6],"range":[476,312],"nice":false,"zero":false},"axis":null},"text":{"field":"t"}}},
{"data":{"values":[{"year":-826,"v":2.9,"t":"(PCA Estanya lake)"}]},"mark":{"type":"text","angle":270,"align":"center","baseline":"middle","fontSize":14,"color":"#333"},
 "encoding":{"x":{"field":"year","type":"quantitative","scale":{"domain":[-600,2050],"nice":false,"zero":false},"axis":null},"y":{"field":"v","type":"quantitative","scale":{"domain":[-2,6],"range":[476,312],"nice":false,"zero":false},"axis":null},"text":{"field":"t"}}},
{"data":{"values":[{"year":2145,"v":3.07,"t":"+"},{"year":2145,"v":-2.54,"t":"-"}]},"mark":{"type":"text","align":"center","baseline":"middle","fontSize":21,"fontWeight":"bold","color":"#FF0000"},
 "encoding":{"x":{"field":"year","type":"quantitative","scale":{"domain":[-600,2050],"nice":false,"zero":false},"axis":null},"y":{"field":"v","type":"quantitative","scale":{"domain":[-2,6],"range":[476,312],"nice":false,"zero":false},"axis":null},"text":{"field":"t"}}},
{"data":{"values":[{"year":2207,"v":0.88,"t":"Salinity"}]},"mark":{"type":"text","align":"left","baseline":"middle","fontSize":17,"fontStyle":"italic","color":"#FF1A1A"},
 "encoding":{"x":{"field":"year","type":"quantitative","scale":{"domain":[-600,2050],"nice":false,"zero":false},"axis":null},"y":{"field":"v","type":"quantitative","scale":{"domain":[-2,6],"range":[476,312],"nice":false,"zero":false},"axis":null},"text":{"field":"t"}}},
{"data":{"values":[{"year":2145,"v":2.29,"v2":-1.51}]},"mark":{"type":"rule","color":"#FF3333","strokeWidth":1.2},
 "encoding":{"x":{"field":"year","type":"quantitative","scale":{"domain":[-600,2050],"nice":false,"zero":false},"axis":null},"y":{"field":"v","type":"quantitative","scale":{"domain":[-2,6],"range":[476,312],"nice":false,"zero":false},"axis":null},"y2":{"field":"v2"}}},
{"data":{"values":[{"year":2145,"v":2.29}]},"mark":{"type":"point","shape":"M-1,1.3L0,0L1,1.3","filled":false,"size":144,"color":"#FF0000","strokeWidth":1.6,"opacity":1},
 "encoding":{"x":{"field":"year","type":"quantitative","scale":{"domain":[-600,2050],"nice":false,"zero":false},"axis":null},"y":{"field":"v","type":"quantitative","scale":{"domain":[-2,6],"range":[476,312],"nice":false,"zero":false},"axis":null}}},
{"data":{"values":[{"year":2145,"v":-1.51}]},"mark":{"type":"point","shape":"M-1,-1.3L0,0L1,-1.3","filled":false,"size":144,"color":"#FF0000","strokeWidth":1.6,"opacity":1},
 "encoding":{"x":{"field":"year","type":"quantitative","scale":{"domain":[-600,2050],"nice":false,"zero":false},"axis":null},"y":{"field":"v","type":"quantitative","scale":{"domain":[-2,6],"range":[476,312],"nice":false,"zero":false},"axis":null}}},

{"data":{"values":[{"year":-494,"v":0.012,"o":1},{"year":-284,"v":0.012,"o":2},{"year":-284,"v":0.234,"o":3},{"year":-26,"v":0.234,"o":4}]},"mark":{"type":"line","color":"#1A1AFF","strokeWidth":1.5},
 "encoding":{"x":{"field":"year","type":"quantitative","scale":{"domain":[-600,2050],"nice":false,"zero":false},"axis":null},
  "order":{"field":"o","type":"quantitative"},
  "y":{"field":"v","type":"quantitative","scale":{"domain":[0,0.25],"range":[576,512],"nice":false,"zero":false},
   "axis":{"orient":"left","offset":3,"values":[0,0.05,0.1,0.15,0.2,0.25],"tickSize":{"condition":{"test":"round(datum.value*100) % 10 === 0","value":21},"value":10},"labelExpr":"round(datum.value*100) % 10 === 0 ? toString(datum.value) : ''","labelFontSize":17,"labelPadding":10,"labelColor":"#333","labelOverlap":false,"labelFlush":false,"domainColor":"#333","tickColor":"#333","title":null,"grid":false,"zindex":1}}}},
{"data":{"values":[{"year":-26,"v":0.234,"o":1},{"year":-26,"v":0.19,"o":2},{"year":65,"v":0.19,"o":3},{"year":65,"v":0.222,"o":4}]},"mark":{"type":"line","color":"#5E5E8C","strokeWidth":1.5},
 "encoding":{"x":{"field":"year","type":"quantitative","scale":{"domain":[-600,2050],"nice":false,"zero":false},"axis":null},"order":{"field":"o","type":"quantitative"},"y":{"field":"v","type":"quantitative","scale":{"domain":[0,0.25],"range":[576,512],"nice":false,"zero":false},"axis":null}}},
{"data":{"values":[{"year":-590,"v":0.31,"t":"d."}]},"mark":{"type":"text","align":"left","baseline":"alphabetic","fontSize":28,"color":"#0000FF"},
 "encoding":{"x":{"field":"year","type":"quantitative","scale":{"domain":[-600,2050],"nice":false,"zero":false},"axis":null},"y":{"field":"v","type":"quantitative","scale":{"domain":[0,0.25],"range":[576,512],"nice":false,"zero":false},"axis":null},"text":{"field":"t"}}},
{"data":{"values":[{"year":-483,"v":0.31,"t":"Ice accummulation"}]},"mark":{"type":"text","align":"left","baseline":"alphabetic","fontSize":19,"fontWeight":"bold","color":"#0000FF"},
 "encoding":{"x":{"field":"year","type":"quantitative","scale":{"domain":[-600,2050],"nice":false,"zero":false},"axis":null},"y":{"field":"v","type":"quantitative","scale":{"domain":[0,0.25],"range":[576,512],"nice":false,"zero":false},"axis":null},"text":{"field":"t"}}},
{"data":{"values":[{"year":-893,"v":0.186,"t":"Ice accumulation"}]},"mark":{"type":"text","angle":270,"align":"center","baseline":"middle","fontSize":21,"color":"#222"},
 "encoding":{"x":{"field":"year","type":"quantitative","scale":{"domain":[-600,2050],"nice":false,"zero":false},"axis":null},"y":{"field":"v","type":"quantitative","scale":{"domain":[0,0.25],"range":[576,512],"nice":false,"zero":false},"axis":null},"text":{"field":"t"}}},
{"data":{"values":[{"year":-824,"v":0.188,"t":"(cm/yr A294 ice cave)"}]},"mark":{"type":"text","angle":270,"align":"center","baseline":"middle","fontSize":14,"color":"#333"},
 "encoding":{"x":{"field":"year","type":"quantitative","scale":{"domain":[-600,2050],"nice":false,"zero":false},"axis":null},"y":{"field":"v","type":"quantitative","scale":{"domain":[0,0.25],"range":[576,512],"nice":false,"zero":false},"axis":null},"text":{"field":"t"}}},

{"data":{"name":"gray"},"mark":{"type":"line","color":"#A0A0A0","strokeWidth":0.9},
 "encoding":{"x":{"field":"year","type":"quantitative","scale":{"domain":[-600,2050],"nice":false,"zero":false},"axis":null},
  "y":{"field":"v","type":"quantitative","scale":{"domain":[-4,4],"range":[600,430],"nice":false,"zero":false},
   "axis":{"orient":"left","offset":105,"values":[-4,-3,-2,-1,0,1,2,3,4],"tickSize":{"condition":{"test":"datum.value % 2 === 0","value":21},"value":10},"labelExpr":"datum.value % 2 === 0 ? toString(datum.value) : ''","labelFontSize":17,"labelPadding":10,"labelColor":"#333","labelOverlap":false,"labelFlush":false,"domainColor":"#333","tickColor":"#333","title":null,"grid":false,"zindex":1}}}},
{"data":{"name":"green"},"mark":{"type":"line","color":"#1D6B34","strokeWidth":2},
 "encoding":{"x":{"field":"year","type":"quantitative","scale":{"domain":[-600,2050],"nice":false,"zero":false},"axis":null},"y":{"field":"v","type":"quantitative","scale":{"domain":[-4,4],"range":[600,430],"nice":false,"zero":false},"axis":null}}},
{"data":{"values":[{"year":734,"v":-0.47,"t":"e."}]},"mark":{"type":"text","align":"left","baseline":"alphabetic","fontSize":28,"color":"#1A6E3A"},
 "encoding":{"x":{"field":"year","type":"quantitative","scale":{"domain":[-600,2050],"nice":false,"zero":false},"axis":null},"y":{"field":"v","type":"quantitative","scale":{"domain":[-4,4],"range":[600,430],"nice":false,"zero":false},"axis":null},"text":{"field":"t"}}},
{"data":{"values":[{"year":852,"v":-0.47,"t":"Tree-ring"},{"year":748,"v":-1.6,"t":"temperature"}]},"mark":{"type":"text","align":"left","baseline":"alphabetic","fontSize":19,"fontWeight":"bold","color":"#1A6E3A"},
 "encoding":{"x":{"field":"year","type":"quantitative","scale":{"domain":[-600,2050],"nice":false,"zero":false},"axis":null},"y":{"field":"v","type":"quantitative","scale":{"domain":[-4,4],"range":[600,430],"nice":false,"zero":false},"axis":null},"text":{"field":"t"}}},
{"data":{"values":[{"year":-1293,"v":0.16,"t":"Tree-ring temperature"}]},"mark":{"type":"text","angle":270,"align":"center","baseline":"middle","fontSize":20,"color":"#222"},
 "encoding":{"x":{"field":"year","type":"quantitative","scale":{"domain":[-600,2050],"nice":false,"zero":false},"axis":null},"y":{"field":"v","type":"quantitative","scale":{"domain":[-4,4],"range":[600,430],"nice":false,"zero":false},"axis":null},"text":{"field":"t"}}},
{"data":{"values":[{"year":-1217,"v":0.14,"t":"(Pinus uncinata, > 2200 masl)"}]},"mark":{"type":"text","angle":270,"align":"center","baseline":"middle","fontSize":14,"color":"#333"},
 "encoding":{"x":{"field":"year","type":"quantitative","scale":{"domain":[-600,2050],"nice":false,"zero":false},"axis":null},"y":{"field":"v","type":"quantitative","scale":{"domain":[-4,4],"range":[600,430],"nice":false,"zero":false},"axis":null},"text":{"field":"t"}}},

{"data":{"values":[{"v":0.75}]},"mark":{"type":"rule","color":"#D2703A","strokeWidth":4.5,"strokeDash":[0.1,7],"strokeCap":"round"},
 "encoding":{"y":{"field":"v","type":"quantitative","scale":{"domain":[-2,2],"range":[277,0],"nice":false,"zero":false},"axis":null}}},
{"data":{"values":[{"v":-0.75}]},"mark":{"type":"rule","color":"#0A1AFF","strokeWidth":4.5,"strokeDash":[0.1,7],"strokeCap":"round"},
 "encoding":{"y":{"field":"v","type":"quantitative","scale":{"domain":[-2,2],"range":[277,0],"nice":false,"zero":false},"axis":null}}},
{"data":{"name":"d18o"},"mark":{"type":"line","color":"#333","strokeWidth":1,"point":{"shape":"square","size":10,"filled":true,"color":"#000","opacity":1}},
 "encoding":{"x":{"field":"year","type":"quantitative","scale":{"domain":[-600,2050],"nice":false,"zero":false},"axis":null},
  "y":{"field":"v","type":"quantitative","scale":{"domain":[-2,2],"range":[277,0],"nice":false,"zero":false},
   "axis":{"orient":"left","offset":6,"values":[-2,-1.75,-1.5,-1.25,-1,-0.75,-0.5,-0.25,0,0.25,0.5,0.75,1,1.25,1.5,1.75,2],"tickSize":{"condition":{"test":"datum.value % 1 === 0","value":21},"value":10},"labelExpr":"datum.value % 1 === 0 ? toString(datum.value) : ''","labelFontSize":17,"labelPadding":10,"labelColor":"#333","labelOverlap":false,"labelFlush":false,"domainColor":"#333","tickColor":"#333","title":null,"grid":false,"zindex":1}}}},
{"data":{"values":[{"year":-600,"v":1.596,"t":"a."}]},"mark":{"type":"text","align":"left","baseline":"alphabetic","fontSize":28,"color":"#000"},
 "encoding":{"x":{"field":"year","type":"quantitative","scale":{"domain":[-600,2050],"nice":false,"zero":false},"axis":null},"y":{"field":"v","type":"quantitative","scale":{"domain":[-2,2],"range":[277,0],"nice":false,"zero":false},"axis":null},"text":{"field":"t"}}},
{"data":{"values":[{"year":-500,"v":1.596,"t":"Central Pyrenean"},{"year":-600,"v":1.22,"t":"δ¹⁸O composite"},{"year":-583,"v":0.874,"t":"record"}]},"mark":{"type":"text","align":"left","baseline":"alphabetic","fontSize":19,"fontWeight":"bold","color":"#000"},
 "encoding":{"x":{"field":"year","type":"quantitative","scale":{"domain":[-600,2050],"nice":false,"zero":false},"axis":null},"y":{"field":"v","type":"quantitative","scale":{"domain":[-2,2],"range":[277,0],"nice":false,"zero":false},"axis":null},"text":{"field":"t"}}},
{"data":{"values":[{"year":-862,"v":0.18,"t":"δ18O (‰)"}]},"mark":{"type":"text","angle":270,"align":"center","baseline":"middle","fontSize":20,"color":"#222"},
 "encoding":{"x":{"field":"year","type":"quantitative","scale":{"domain":[-600,2050],"nice":false,"zero":false},"axis":null},"y":{"field":"v","type":"quantitative","scale":{"domain":[-2,2],"range":[277,0],"nice":false,"zero":false},"axis":null},"text":{"field":"t"}}},
{"data":{"values":[{"year":-800,"v":0.23,"t":"(detrended and normalized)"}]},"mark":{"type":"text","angle":270,"align":"center","baseline":"middle","fontSize":14,"color":"#333"},
 "encoding":{"x":{"field":"year","type":"quantitative","scale":{"domain":[-600,2050],"nice":false,"zero":false},"axis":null},"y":{"field":"v","type":"quantitative","scale":{"domain":[-2,2],"range":[277,0],"nice":false,"zero":false},"axis":null},"text":{"field":"t"}}},
{"data":{"values":[{"year":2134,"v":1.52,"t":"+"},{"year":2134,"v":-0.455,"t":"-"}]},"mark":{"type":"text","align":"center","baseline":"middle","fontSize":21,"fontWeight":"bold","color":"#111"},
 "encoding":{"x":{"field":"year","type":"quantitative","scale":{"domain":[-600,2050],"nice":false,"zero":false},"axis":null},"y":{"field":"v","type":"quantitative","scale":{"domain":[-2,2],"range":[277,0],"nice":false,"zero":false},"axis":null},"text":{"field":"t"}}},
{"data":{"values":[{"year":2172,"v":0.48,"t":"Temperature"}]},"mark":{"type":"text","align":"left","baseline":"middle","fontSize":16,"fontStyle":"italic","color":"#222"},
 "encoding":{"x":{"field":"year","type":"quantitative","scale":{"domain":[-600,2050],"nice":false,"zero":false},"axis":null},"y":{"field":"v","type":"quantitative","scale":{"domain":[-2,2],"range":[277,0],"nice":false,"zero":false},"axis":null},"text":{"field":"t"}}},
{"data":{"values":[{"year":2131,"v":1.19,"v2":-0.065}]},"mark":{"type":"rule","color":"#333","strokeWidth":1.2},
 "encoding":{"x":{"field":"year","type":"quantitative","scale":{"domain":[-600,2050],"nice":false,"zero":false},"axis":null},"y":{"field":"v","type":"quantitative","scale":{"domain":[-2,2],"range":[277,0],"nice":false,"zero":false},"axis":null},"y2":{"field":"v2"}}},
{"data":{"values":[{"year":2131,"v":1.19}]},"mark":{"type":"point","shape":"M-1,1.3L0,0L1,1.3","filled":false,"size":144,"color":"#222","strokeWidth":1.6,"opacity":1},
 "encoding":{"x":{"field":"year","type":"quantitative","scale":{"domain":[-600,2050],"nice":false,"zero":false},"axis":null},"y":{"field":"v","type":"quantitative","scale":{"domain":[-2,2],"range":[277,0],"nice":false,"zero":false},"axis":null}}},
{"data":{"values":[{"year":2131,"v":-0.065}]},"mark":{"type":"point","shape":"M-1,-1.3L0,0L1,-1.3","filled":false,"size":144,"color":"#222","strokeWidth":1.6,"opacity":1},
 "encoding":{"x":{"field":"year","type":"quantitative","scale":{"domain":[-600,2050],"nice":false,"zero":false},"axis":null},"y":{"field":"v","type":"quantitative","scale":{"domain":[-2,2],"range":[277,0],"nice":false,"zero":false},"axis":null}}},

{"data":{"values":[{"year":471},{"year":891},{"year":1258},{"year":1862}]},
 "mark":{"type":"rule","color":"#444","strokeWidth":1.3,"strokeDash":[9,5]},
 "encoding":{"x":{"field":"year","type":"quantitative","scale":{"domain":[-600,2050],"nice":false,"zero":false},"axis":null}}}
],
"resolve":{"scale":{"y":"independent"},"axis":{"x":"independent","y":"independent"}}
}
